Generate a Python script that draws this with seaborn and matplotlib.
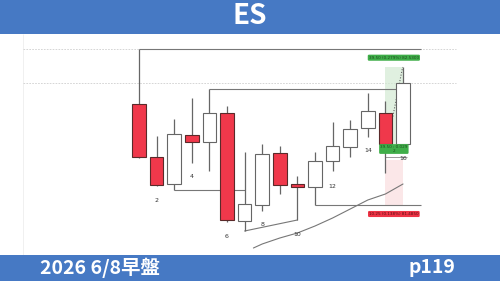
import matplotlib
matplotlib.use("Agg")
import matplotlib.pyplot as plt
from matplotlib.patches import Rectangle
import seaborn as sns
import numpy as np
import pandas as pd

# ---- data (arbitrary price units) ----
candle_no = list(range(1, 17))
opens  = [156, 103,  76, 125, 118, 147,  39,  55, 107,  76,  73,  99, 113, 132, 147, 116]
highs  = [211, 124, 141, 162, 171, 154, 108, 116, 114,  84, 108, 138, 140, 167, 159, 193]
lows   = [102,  74,  70,  97,  89,  38,  29,  49,  66,  40,  55,  89, 103, 123,  87, 116]
closes = [103,  75, 126, 118, 147,  40,  56, 106,  75,  73,  99, 114, 131, 149, 116, 177]

label_candles = [2, 4, 6, 8, 10, 12, 14, 16]
label_prices  = [60, 83, 24, 36, 26, 74, 110, 102]

ma_x = [6.5, 7, 8, 9, 10, 11, 12, 13, 14, 15]
ma_y = [12, 16, 22, 27, 34, 42, 51, 60, 66, 76]

grid_levels = [210.7, 176.7]

title = "ES"
footer_left = "2026 6/8早盤"
footer_right = "p119"
tp_text = "39.50 (0.279%) 82.5300"
mid_text = "39.50 : 0.029\n2"
sl_text = "10.25 (0.138%) 81.4850"

BLUE = "#4679C4"
RED = "#F0384B"

sns.set_theme(style="white")
plt.rcParams['font.family'] = ['Noto Sans CJK TC', 'DejaVu Sans']

fig = plt.figure(figsize=(5, 2.81), dpi=100)
fig.patch.set_facecolor("white")
ax = fig.add_axes([0, 0, 1, 1])
ax.set_xlim(-7.898, 20.511)
ax.set_ylim(-21, 260)
ax.axis("off")

df = pd.DataFrame({"n": candle_no, "o": opens, "h": highs, "l": lows, "c": closes})
df["i"] = df["n"] - 1

# faint left border
ax.vlines(-6.6, 5, 226, color="#eeeeee", lw=0.6, zorder=0)

# dashed gridlines
for g in grid_levels:
    ax.hlines(g, -6.6, 18.0, color="#cfcfcf", lw=0.6, linestyles=(0, (2, 1.5)), zorder=0)

# zones
ax.add_patch(Rectangle((13.97, 116), 1.03, 77, facecolor="#d4ead4", alpha=0.7, lw=0, zorder=0.5))
ax.add_patch(Rectangle((13.97, 55), 1.03, 45, facecolor="#fbe1e3", alpha=0.8, lw=0, zorder=0.5))

# reference lines
LC = "#777777"
ax.hlines(highs[0], 0, 16.0, color=LC, lw=0.8, zorder=1)
ax.hlines(highs[4], 4, 14.66, color=LC, lw=0.8, zorder=1)
ax.hlines(lows[2], 2, 6, color=LC, lw=0.8, zorder=1)
ax.hlines(lows[10], 10, 16.0, color=LC, lw=0.8, zorder=1)
ax.plot([6, 9], [lows[6], lows[9]], color=LC, lw=0.8, zorder=1)
ax.hlines(103, 14, 15.2, color="#999999", lw=0.7, zorder=1)

# moving-average curve
sns.lineplot(x=ma_x, y=ma_y, ax=ax, color="#777777", lw=0.8, zorder=1)

# dotted projection
ax.plot([14.36, 14.98], [138, 193], color="#666666", lw=0.8, linestyle=(0, (1, 1.5)), zorder=3)

# candles
ax.vlines(df["i"], df["l"], df["h"], color="#666666", lw=0.9, zorder=2)
up = df["c"] >= df["o"]
bottoms = np.minimum(df["o"], df["c"])
heights = np.abs(df["c"] - df["o"])
colors = np.where(up, "white", RED)
edges = np.where(up, "#666666", "#5a2a2a")
ax.bar(df["i"], heights, bottom=bottoms, width=0.77, color=colors,
       edgecolor=edges, linewidth=0.8, zorder=3)

# candle number labels
for n, p in zip(label_candles, label_prices):
    ax.text(n - 1, p, str(n), fontsize=4.5, color="#333333", ha="center", va="center",
            family="DejaVu Sans", zorder=4)

# trade labels
box_g = dict(boxstyle="round,pad=0.25,rounding_size=0.3", fc="#3fae49", ec="none")
box_r = dict(boxstyle="round,pad=0.25,rounding_size=0.3", fc="#ee3446", ec="none")
ax.text(14.48, 202.3, tp_text, fontsize=3, color="#1d4d1d", ha="center", va="center",
        family="DejaVu Sans", bbox=box_g, zorder=5)
ax.text(14.48, 111, mid_text, fontsize=3, color="#1d4d1d", ha="center", va="center",
        family="DejaVu Sans", bbox=box_g, zorder=5, linespacing=0.9)
ax.text(14.48, 46, sl_text, fontsize=3, color="#5a0a10", ha="center", va="center",
        family="DejaVu Sans", bbox=box_r, zorder=5)

# header / footer bars
fig.patches.append(Rectangle((0, 1 - 34 / 281), 1, 34 / 281, transform=fig.transFigure,
                             facecolor=BLUE, edgecolor="none", zorder=5))
fig.patches.append(Rectangle((0, 0), 1, 26 / 281, transform=fig.transFigure,
                             facecolor=BLUE, edgecolor="none", zorder=5))
fig.text(0.5, 1 - 16 / 281, title, color="white", fontsize=20, fontweight="bold",
         ha="center", va="center", zorder=6)
fig.text(40 / 500, 13.5 / 281, footer_left, color="white", fontsize=14, fontweight="bold",
         ha="left", va="center", zorder=6)
fig.text(455 / 500, 13.5 / 281, footer_right, color="white", fontsize=14, fontweight="bold",
         ha="right", va="center", zorder=6)

fig.savefig("out.png", dpi=100, facecolor="white")
